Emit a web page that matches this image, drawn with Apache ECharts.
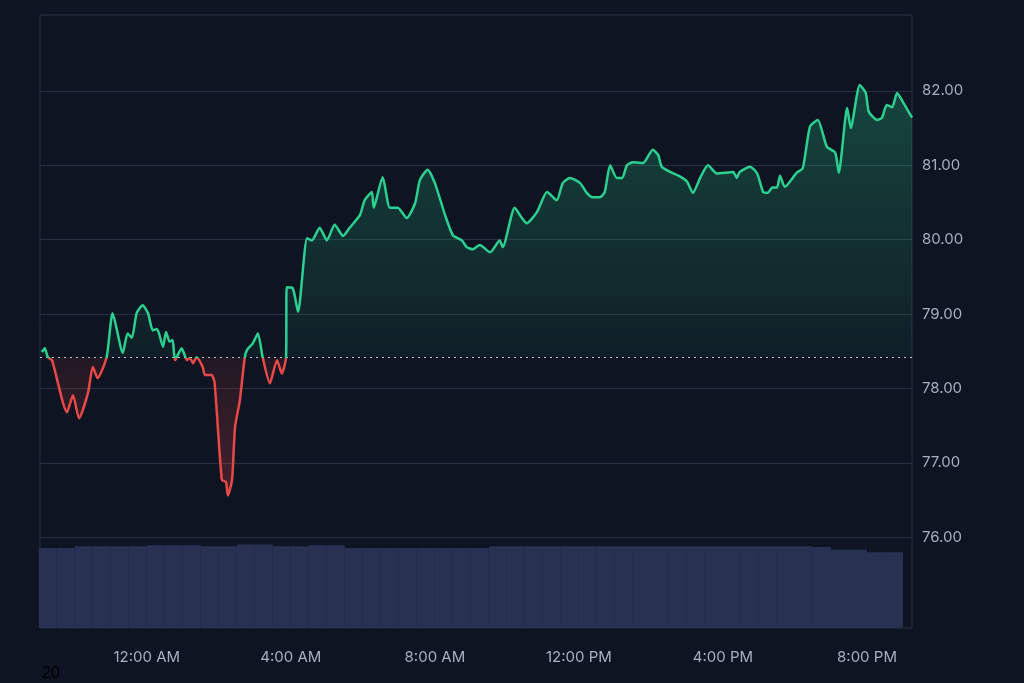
<!DOCTYPE html>
<html>
<head>
<meta charset="utf-8">
<script src="https://cdn.jsdelivr.net/npm/echarts@6/dist/echarts.min.js"></script>
<style>
  html, body { margin: 0; padding: 0; background: #0e1421; }
  #chart { width: 1024px; height: 683px; }
</style>
</head>
<body>
<div id="chart"></div>
<script>
// minutes from 12:00 AM
let times = [-175, -170, -165, -158, -133, -123, -113, -98, -90, -82, -67, -57, -40, -32, -25, -17, -7, 2, 10, 17,
    27, 32, 38, 43, 47, 58, 67, 72, 77, 83, 93, 97, 108, 113, 125, 132, 135, 142, 147, 155,
    163, 167, 177, 185, 193, 205, 217, 225, 232, 233, 243, 252, 267, 275, 288, 300, 313, 327, 338, 355,
    363, 375, 378, 393, 405, 418, 433, 447, 455, 468, 480, 497, 510, 525, 533, 543, 555, 572, 588, 593,
    613, 625, 633, 650, 667, 683, 693, 705, 722, 733, 743, 755, 763, 772, 783, 792, 800, 810, 827, 843,
    852, 858, 872, 888, 900, 910, 922, 935, 950, 977, 983, 988, 1005, 1017, 1027, 1035, 1042, 1050, 1055, 1063,
    1083, 1093, 1105, 1118, 1133, 1147, 1153, 1167, 1173, 1188, 1198, 1203, 1217, 1225, 1233, 1242, 1250, 1260, 1275];
let prices = [78.49, 78.54, 78.42, 78.38, 77.68, 77.91, 77.60, 77.94, 78.29, 78.14, 78.42, 79.01, 78.48, 78.74, 78.68, 79.01, 79.12, 79.01, 78.78, 78.80,
    78.56, 78.76, 78.63, 78.65, 78.38, 78.54, 78.38, 78.41, 78.34, 78.42, 78.29, 78.18, 78.18, 78.07, 76.77, 76.74, 76.56, 76.77, 77.48, 77.84,
    78.41, 78.52, 78.61, 78.74, 78.42, 78.07, 78.38, 78.20, 78.42, 79.36, 79.35, 79.03, 80.02, 79.99, 80.16, 79.99, 80.20, 80.05, 80.16, 80.33,
    80.53, 80.64, 80.43, 80.84, 80.43, 80.43, 80.29, 80.49, 80.80, 80.94, 80.76, 80.33, 80.06, 79.99, 79.90, 79.87, 79.93, 79.83, 79.99, 79.90,
    80.43, 80.29, 80.22, 80.37, 80.64, 80.53, 80.76, 80.83, 80.76, 80.63, 80.57, 80.57, 80.64, 81.00, 80.83, 80.83, 81.00, 81.04, 81.03, 81.21,
    81.14, 80.98, 80.91, 80.85, 80.78, 80.63, 80.83, 81.00, 80.89, 80.91, 80.83, 80.91, 80.98, 80.89, 80.64, 80.63, 80.70, 80.70, 80.86, 80.71,
    80.90, 80.96, 81.52, 81.61, 81.25, 81.17, 80.90, 81.77, 81.50, 82.08, 81.97, 81.72, 81.61, 81.64, 81.81, 81.78, 81.97, 81.85, 81.64];
let basePrice = 78.42;

// volume per 30 minutes, starting at -165
let volStart = -165;
let volumes = [91, 91, 93, 93, 93, 93, 94, 94, 94, 93, 93, 95, 95, 93, 93, 94, 94, 91, 91, 91, 91, 91, 91, 91, 91,
    93, 93, 93, 93, 93, 93, 93, 93, 93, 93, 93, 93, 93, 93, 93, 93, 93, 93, 92, 89, 89, 86, 86];

let tickMinutes = [0, 240, 480, 720, 960, 1200];
let tickLabels = ['12:00 AM', '4:00 AM', '8:00 AM', '12:00 PM', '4:00 PM', '8:00 PM'];
let priceTicks = [76, 77, 78, 79, 80, 81, 82];

let chart = echarts.init(document.getElementById('chart'));

let priceData = times.map((t, i) => [t, prices[i]]);
let volData = volumes.map((v, i) => [volStart + i * 30, v]);

// hard colour split at the base price, relative to the line's bounding box
let pMax = Math.max(...prices), pMin = Math.min(...prices);
let split = (pMax - basePrice) / (pMax - pMin);
const GREEN = '#2bd08f', RED = '#e84848';
let lineColor = new echarts.graphic.LinearGradient(0, 0, 0, 1, [
    {offset: 0, color: GREEN}, {offset: split, color: GREEN},
    {offset: split, color: RED}, {offset: 1, color: RED}
]);
let areaColor = new echarts.graphic.LinearGradient(0, 0, 0, 1, [
    {offset: 0, color: 'rgba(43,208,143,0.38)'}, {offset: split, color: 'rgba(43,208,143,0.08)'},
    {offset: split, color: 'rgba(232,72,72,0.12)'}, {offset: 1, color: 'rgba(232,72,72,0.35)'}
]);

let options = {
    backgroundColor: '#0e1421',
    animation: false,
    grid: [
        {left: 40, right: 112, top: 15, bottom: 55, show: true, borderColor: '#2a3142', borderWidth: 1},
        {left: 40, right: 112, top: 540, bottom: 55}
    ],
    xAxis: [
        {
            type: 'value', gridIndex: 0, min: -178, max: 1275,
            splitLine: {show: false},
            axisLine: {show: false},
            axisTick: {show: false},
            axisLabel: {
                customValues: tickMinutes,
                color: '#a7afc0', fontSize: 15, margin: 22,
                fontFamily: 'Inter, sans-serif',
                formatter: v => tickLabels[tickMinutes.indexOf(v)] || ''
            }
        },
        {type: 'value', gridIndex: 1, min: -178, max: 1275, show: false}
    ],
    yAxis: [
        {
            type: 'value', gridIndex: 0, position: 'right', min: 74.78, max: 83.02,
            axisLine: {show: false},
            axisTick: {show: false},
            splitLine: {show: false},
            axisLabel: {
                customValues: priceTicks,
                color: '#a7afc0', fontSize: 15, margin: 10,
                fontFamily: 'Inter, sans-serif',
                formatter: v => v.toFixed(2)
            }
        },
        {type: 'value', gridIndex: 1, min: 0, max: 100, show: false}
    ],
    series: [
        {
            type: 'line',
            data: [],
            silent: true,
            markLine: {
                symbol: 'none',
                silent: true,
                label: {show: false},
                lineStyle: {color: '#283042', type: 'solid', width: 1},
                data: priceTicks.map(p => ({yAxis: p}))
            }
        },
        {
            type: 'bar',
            xAxisIndex: 1, yAxisIndex: 1,
            data: volData,
            barWidth: 18,
            itemStyle: {color: '#283152'},
            silent: true
        },
        {
            type: 'line',
            data: priceData,
            showSymbol: false,
            smooth: 0.2,
            z: 5,
            lineStyle: {width: 2.5, color: lineColor},
            itemStyle: {color: GREEN},
            areaStyle: {origin: basePrice, color: areaColor},
            markLine: {
                symbol: 'none',
                silent: true,
                label: {show: false},
                lineStyle: {color: '#c8ccd6', type: [2, 4], width: 1.2},
                data: [{yAxis: basePrice}]
            }
        }
    ],
    graphic: [
        {type: 'text', left: 42, top: 666, style: {text: '20', fill: '#000', fontSize: 16, fontFamily: 'Arial'}}
    ]
};

chart.setOption(options);
</script>
</body>
</html>
